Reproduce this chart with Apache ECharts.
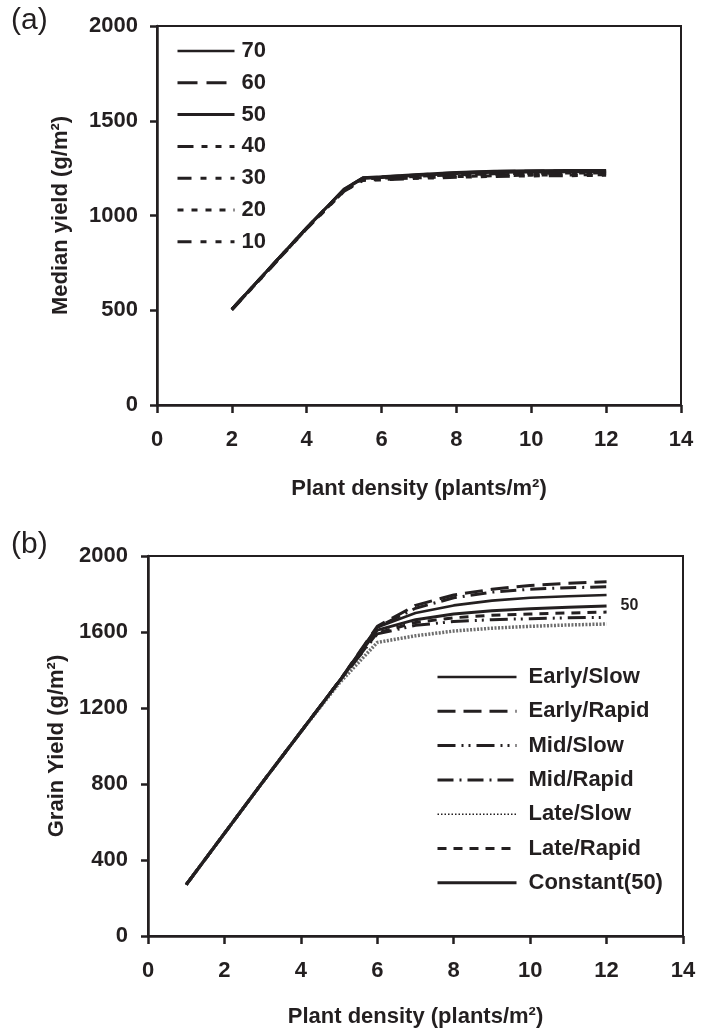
<!DOCTYPE html>
<html>
<head>
<meta charset="utf-8">
<script src="https://cdn.jsdelivr.net/npm/echarts@6/dist/echarts.min.js"></script>
<style>
html,body{margin:0;padding:0;background:#fff;}
#chart{width:712px;height:1032px;}
</style>
</head>
<body>
<div id="chart"></div>
<script>
// ---------- Panel (a) data ----------
const densityA = [2, 3, 4, 5, 5.5, 6, 7, 8, 9, 10, 11, 12];
const legendA = ['70', '60', '50', '40', '30', '20', '10'];
const yieldA70 = [505, 720, 935, 1140, 1200, 1205, 1218, 1228, 1235, 1237, 1238, 1238];
const yieldA60 = [505, 720, 935, 1138, 1198, 1203, 1215, 1225, 1232, 1234, 1235, 1235];
const yieldA50 = [505, 720, 935, 1137, 1196, 1200, 1212, 1222, 1228, 1230, 1231, 1232];
const yieldA40 = [505, 720, 935, 1135, 1193, 1197, 1207, 1215, 1220, 1223, 1224, 1225];
const yieldA30 = [505, 718, 933, 1133, 1190, 1193, 1203, 1210, 1215, 1218, 1219, 1220];
const yieldA20 = [503, 716, 931, 1130, 1187, 1190, 1199, 1205, 1210, 1213, 1214, 1215];
const yieldA10 = [502, 715, 930, 1128, 1185, 1188, 1196, 1202, 1206, 1209, 1210, 1212];
const yTicksA = [0, 500, 1000, 1500, 2000];

// ---------- Panel (b) data ----------
const densityB = [1, 2, 3, 4, 5, 6, 7, 8, 9, 10, 11, 12];
const legendB = ['Early/Slow', 'Early/Rapid', 'Mid/Slow', 'Mid/Rapid', 'Late/Slow', 'Late/Rapid', 'Constant(50)'];
const earlySlow  = [270, 540, 810, 1075, 1340, 1625, 1700, 1740, 1765, 1780, 1788, 1795];
const earlyRapid = [270, 540, 810, 1075, 1340, 1630, 1740, 1795, 1825, 1845, 1857, 1865];
const midSlow    = [270, 540, 810, 1075, 1340, 1590, 1635, 1655, 1665, 1670, 1675, 1677];
const midRapid   = [270, 540, 810, 1075, 1340, 1625, 1725, 1780, 1810, 1825, 1833, 1838];
const lateSlow   = [270, 540, 810, 1075, 1330, 1545, 1580, 1605, 1620, 1630, 1637, 1642];
const lateRapid  = [270, 540, 810, 1075, 1340, 1595, 1650, 1675, 1688, 1695, 1700, 1705];
const constant50 = [270, 540, 810, 1075, 1340, 1610, 1665, 1695, 1712, 1722, 1730, 1737];
const xTicks = [0, 2, 4, 6, 8, 10, 12, 14];
const yTicksB = [0, 400, 800, 1200, 1600, 2000];
const constantEndLabel = '50';

const INK = '#231f20';
const FONT = 'Liberation Sans';
const FS = 22;

function pairs(xs, ys) { return xs.map((x, i) => [x, ys[i]]); }

const seriesDefA = [
  [legendA[0], yieldA70, 'solid', 2.6],
  [legendA[1], yieldA60, [20, 9], 3],
  [legendA[2], yieldA50, 'solid', 3],
  [legendA[3], yieldA40, [16, 8, 6, 8, 6, 8], 3],
  [legendA[4], yieldA30, [14, 9, 6, 9, 6, 9], 3],
  [legendA[5], yieldA20, [6, 8], 3],
  [legendA[6], yieldA10, [14, 9, 6, 9, 6, 9], 3]
];
const seriesDefB = [
  [legendB[0], earlySlow, 'solid', 2.6, INK],
  [legendB[1], earlyRapid, [18, 8], 3, INK],
  [legendB[2], midSlow, [18, 6, 2, 5, 2, 6], 3, INK],
  [legendB[3], midRapid, [16, 6, 2, 6], 3, INK],
  [legendB[4], lateSlow, [2, 1.5], 3.5, '#6e6e6e'],
  [legendB[5], lateRapid, [9, 7], 3, INK],
  [legendB[6], constant50, 'solid', 3, INK]
];

const series = [];
seriesDefA.forEach(([name, ys, type, w]) => {
  series.push({
    name, type: 'line', xAxisIndex: 0, yAxisIndex: 0,
    data: pairs(densityA, ys), symbol: 'none', silent: true,
    lineStyle: { color: INK, width: w, type }, itemStyle: { color: INK }
  });
});
seriesDefB.forEach(([name, ys, type, w, c]) => {
  const s = {
    name, type: 'line', xAxisIndex: 1, yAxisIndex: 1,
    data: pairs(densityB, ys), symbol: 'none', silent: true,
    lineStyle: { color: c, width: w, type }, itemStyle: { color: c }
  };
  if (name === legendB[6]) {
    s.endLabel = { show: true, formatter: constantEndLabel, fontFamily: FONT,
      fontWeight: 'bold', fontSize: 16, color: INK, distance: 14 };
  }
  series.push(s);
});

function xAxisCfg(gridIndex, gap) {
  return {
    type: 'value', gridIndex, min: 0, max: 14, interval: 2,
    name: 'Plant density (plants/m²)', nameLocation: 'middle', nameGap: gap,
    nameTextStyle: { fontFamily: FONT, fontWeight: 'bold', fontSize: FS, color: INK },
    axisLine: { show: true, onZero: false, lineStyle: { color: INK, width: 2.5 } },
    axisTick: { show: true, length: 8, lineStyle: { color: INK, width: 2.5 } },
    axisLabel: { margin: 24, fontFamily: FONT, fontWeight: 'bold', fontSize: FS, color: INK,
      formatter: v => xTicks.includes(v) ? String(v) : '' },
    splitLine: { show: false }
  };
}
function yAxisCfg(gridIndex, name, max, interval, ticks, gap, margin) {
  return {
    type: 'value', gridIndex, min: 0, max, interval,
    name, nameLocation: 'middle', nameGap: gap, nameRotate: 90,
    nameTextStyle: { fontFamily: FONT, fontWeight: 'bold', fontSize: FS, color: INK },
    axisLine: { show: true, onZero: false, lineStyle: { color: INK, width: 2.5 } },
    axisTick: { show: true, length: 7, lineStyle: { color: INK, width: 2.5 } },
    axisLabel: { margin, fontFamily: FONT, fontWeight: 'bold', fontSize: FS, color: INK,
      formatter: v => ticks.includes(v) ? String(v) : '' },
    splitLine: { show: false }
  };
}

const legendText = { fontFamily: FONT, fontWeight: 'bold', fontSize: FS, color: INK, lineHeight: 20 };

const legendBData = legendB.map(n => n === legendB[4]
  ? { name: n, lineStyle: { width: 1.5, color: INK, type: [1.5, 2] } }
  : { name: n });

const option = {
  animation: false,
  backgroundColor: '#fff',
  grid: [
    { left: 157, right: 31, top: 26, bottom: 627, show: true, borderColor: INK, borderWidth: 2 },
    { left: 148, right: 29, top: 556, bottom: 96, show: true, borderColor: INK, borderWidth: 2 }
  ],
  xAxis: [xAxisCfg(0, 73), xAxisCfg(1, 70)],
  yAxis: [
    yAxisCfg(0, 'Median yield (g/m²)', 2000, 500, yTicksA, 85, 19),
    yAxisCfg(1, 'Grain Yield (g/m²)', 2000, 400, yTicksB, 79, 20)
  ],
  legend: [
    {
      data: legendA, orient: 'vertical', left: 176, top: 40, padding: 0,
      itemWidth: 57, itemHeight: 14, itemGap: 9.8,
      textStyle: Object.assign({ padding: [0, 0, 0, 2] }, legendText),
      lineStyle: { width: 'inherit' }, itemStyle: { opacity: 0 }, selectedMode: false
    },
    {
      data: legendBData, orient: 'vertical', left: 436, top: 666, padding: 0,
      itemWidth: 79, itemHeight: 14, itemGap: 12.3,
      textStyle: Object.assign({ padding: [0, 0, 0, 7] }, legendText),
      lineStyle: { width: 'inherit' }, itemStyle: { opacity: 0 }, selectedMode: false
    }
  ],
  graphic: [
    { type: 'text', left: 11, top: 6, style: { text: '(a)', fontFamily: FONT, fontSize: 30, fill: INK } },
    { type: 'text', left: 11, top: 530, style: { text: '(b)', fontFamily: FONT, fontSize: 30, fill: INK } }
  ],
  series
};

const chart = echarts.init(document.getElementById('chart'), null, { renderer: 'canvas' });
chart.setOption(option);
</script>
</body>
</html>
